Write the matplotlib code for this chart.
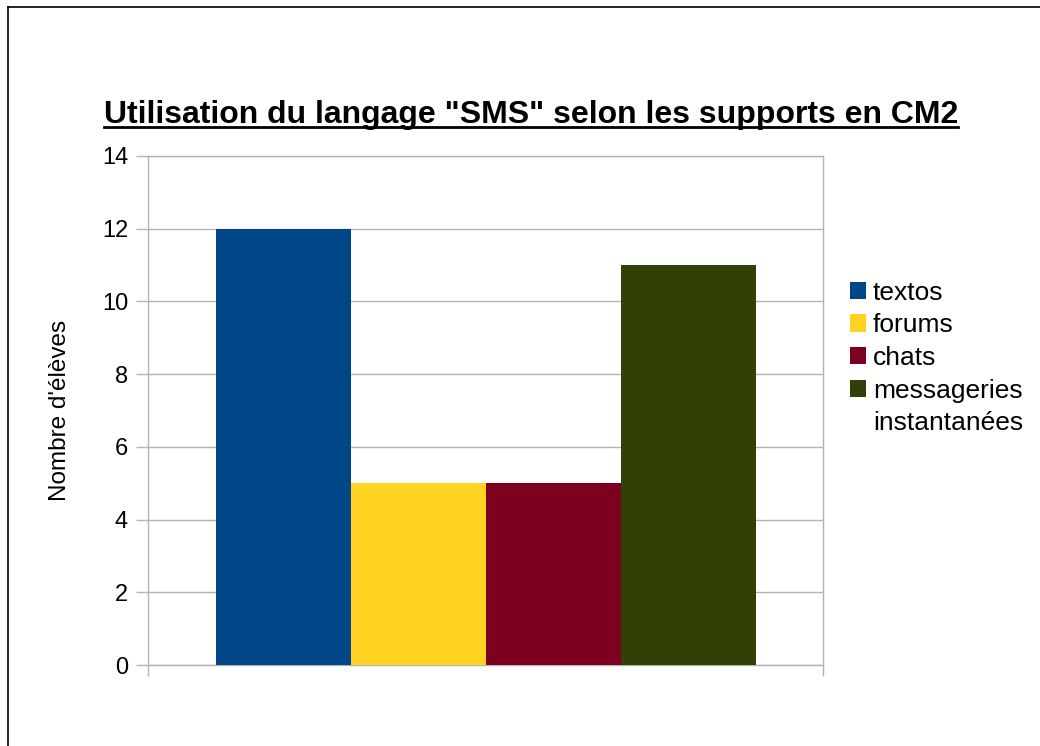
import numpy as np
import matplotlib
matplotlib.use("Agg")
import matplotlib.pyplot as plt
from matplotlib.lines import Line2D
from matplotlib.patches import Patch

plt.rcParams['font.family'] = ['Liberation Sans', 'DejaVu Sans']

series = ['textos', 'forums', 'chats', 'messageries instantanées']
values = [12, 5, 5, 11]
colors = ['#004586', '#ffd320', '#7e0021', '#314004']
yticks = [0, 2, 4, 6, 8, 10, 12, 14]

W, H = 1040, 746
fig = plt.figure(figsize=(W / 100, H / 100), dpi=100)

# frame around the chart (only left and top edges are in view)
fig.add_artist(Line2D([8 / W, 8 / W], [0, 1 - 7 / H], color='black', lw=1.2))
fig.add_artist(Line2D([8 / W, 1], [1 - 7 / H, 1 - 7 / H], color='black', lw=1.2))

ax = fig.add_axes([148 / W, (H - 665) / H, 675 / W, 509 / H])

n = len(values)
width = 0.8 / n
offsets = (np.arange(n) - (n - 1) / 2) * width
bars = []
for off, v, c in zip(offsets, values, colors):
    bars.append(ax.bar(off, v, width=width, color=c, zorder=3))

ax.set_xlim(-0.5, 0.5)
ax.set_ylim(0, 14)
ax.set_yticks(yticks)
ax.set_yticklabels([str(t) for t in yticks], fontsize=17)
ax.set_xticks([-0.5, 0.5])
ax.set_xticklabels([])
ax.tick_params(axis='y', length=8.6, width=1, color='#b3b3b3', pad=5.8)
ax.tick_params(axis='x', length=8, width=1, color='#b3b3b3')
ax.grid(axis='y', color='#b3b3b3', lw=1, zorder=0)
for s in ax.spines.values():
    s.set_color('#b3b3b3')
    s.set_linewidth(1)

ax.set_ylabel("Nombre d'élèves", fontsize=17.5, labelpad=22)

ttl = fig.text(531 / W, 1 - 123 / H, 'Utilisation du langage "SMS" selon les supports en CM2',
               ha='center', va='baseline', fontsize=23, fontweight='bold')
fig.canvas.draw()
bb = ttl.get_window_extent(fig.canvas.get_renderer())
fig.add_artist(Line2D([bb.x0 / W, bb.x1 / W], [(1 - 127 / H), (1 - 127 / H)], color='black', lw=2))

# legend: the wrapped label keeps its swatch on the first line
handles, labels = [], []
for b, lab in zip(bars, series):
    words = lab.split(' ', 1)
    handles.append(b)
    labels.append(words[0])
    if len(words) > 1:
        handles.append(Patch(facecolor='none', edgecolor='none'))
        labels.append(words[1])
fig.legend(handles, labels, loc='upper left', bbox_to_anchor=(839 / W, 1 - 270 / H), frameon=False,
           fontsize=19, handlelength=0.64, handleheight=0.64, handletextpad=0.25,
           labelspacing=0.33, borderaxespad=0)

fig.savefig('out.png', dpi=100, facecolor='white')
